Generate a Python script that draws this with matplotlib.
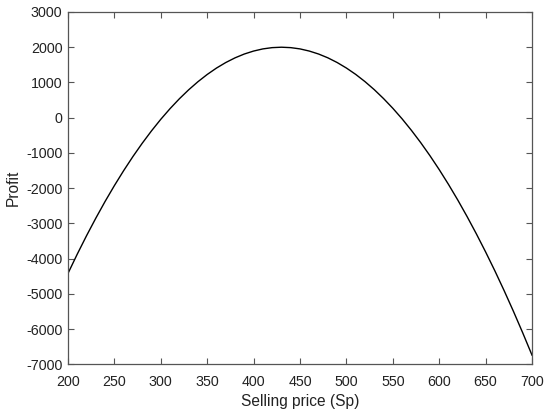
import matplotlib
matplotlib.use("Agg")
import matplotlib.pyplot as plt

selling_price = [200, 210, 220, 230, 240, 250, 260, 270, 280, 290,
                 300, 310, 320, 330, 340, 350, 360, 370, 380, 390,
                 400, 410, 420, 430, 440, 450, 460, 470, 480, 490,
                 500, 510, 520, 530, 540, 550, 560, 570, 580, 590,
                 600, 610, 620, 630, 640, 650, 660, 670, 680, 690, 700]
profit = [-4421, -3873, -3350, -2852, -2377, -1928, -1503, -1102, -726, -374,
          -46, 257, 536, 790, 1020, 1226, 1408, 1565, 1698, 1807,
          1891, 1952, 1988, 2000, 1988, 1952, 1891, 1807, 1699, 1566,
          1409, 1229, 1024, 796, 543, 267, -33, -358, -706, -1078,
          -1474, -1894, -2337, -2805, -3296, -3811, -4349, -4912, -5498, -6108, -6741]

x_ticks = [200, 250, 300, 350, 400, 450, 500, 550, 600, 650, 700]
y_ticks = [-7000, -6000, -5000, -4000, -3000, -2000, -1000, 0, 1000, 2000, 3000]

plt.rcParams['font.family'] = ['Liberation Sans', 'DejaVu Sans']
plt.rcParams['axes.unicode_minus'] = False

fig = plt.figure(figsize=(5.5, 4.16), dpi=100)
ax = fig.add_axes([0.1236, 0.1243, 0.8437, 0.8469])
ax.plot(selling_price, profit, color='black', linewidth=1.0)
ax.set_xlim(200, 700)
ax.set_ylim(-7000, 3000)
ax.set_xticks(x_ticks)
ax.set_yticks(y_ticks)
ax.tick_params(direction='in', top=True, right=True, length=4, width=0.8,
               labelsize=10.3, colors='#222222')
ax.tick_params(axis='x', pad=8)
ax.tick_params(axis='y', pad=4)
for s in ax.spines.values():
    s.set_color('#555555')
    s.set_linewidth(0.9)
ax.tick_params(color='#555555')
ax.set_xlabel('Selling price (Sp)', fontsize=11.2, color='#222222', labelpad=3.5)
ax.set_ylabel('Profit', fontsize=11.2, color='#222222', labelpad=4)
fig.savefig('out.png', dpi=100)
